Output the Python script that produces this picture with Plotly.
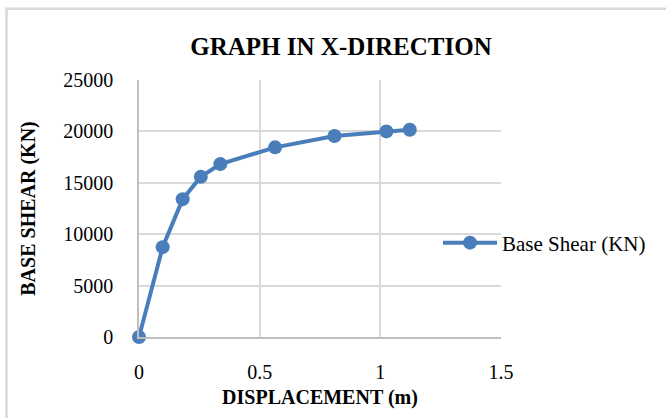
import plotly.graph_objects as go

# Pushover curve: roof displacement (m) vs base shear (kN)
displacement = [0, 0.098, 0.181, 0.256, 0.337, 0.564, 0.810, 1.025, 1.122]
base_shear = [0, 8740, 13410, 15580, 16820, 18450, 19550, 20000, 20160]

x_ticks = [0, 0.5, 1, 1.5]
x_tick_labels = ["0", "0.5", "1", "1.5"]
y_ticks = [0, 5000, 10000, 15000, 20000, 25000]
y_tick_labels = ["0", "5000", "10000", "15000", "20000", "25000"]

SERIF = "Liberation Serif"
BLUE = "#4a7ebb"
GRID = "#d9d9d9"

W, H = 666, 418
L, R, T, B = 139, 165, 80, 81
pw, ph = W - L - R, H - T - B


def px_x(p):
    return (p - L) / pw


def px_y(p):
    return (H - B - p) / ph


fig = go.Figure()
fig.add_trace(go.Scatter(
    x=displacement, y=base_shear,
    mode="lines+markers",
    name="Base Shear (KN)",
    line=dict(color=BLUE, width=4),
    marker=dict(color=BLUE, size=14),
    cliponaxis=False,
))

fig.update_layout(
    width=W, height=H,
    margin=dict(l=L, r=R, t=T, b=B, pad=0, autoexpand=False),
    paper_bgcolor="white", plot_bgcolor="white",
    font=dict(family=SERIF, size=20, color="black"),
    title=dict(
        text="<b>GRAPH IN X-DIRECTION</b>",
        font=dict(family=SERIF, size=25, color="black"),
        x=341 / W, xanchor="center", xref="container",
        y=1 - 46 / H, yanchor="middle", yref="container",
    ),
    showlegend=True,
    legend=dict(
        x=px_x(438), xanchor="left",
        y=px_y(243), yanchor="middle",
        bgcolor="rgba(0,0,0,0)",
        font=dict(family=SERIF, size=21, color="black"),
        itemwidth=54,
    ),
    xaxis=dict(
        range=[0, 1.5], tickvals=x_ticks, ticktext=x_tick_labels,
        automargin=False,
        showgrid=True, gridcolor=GRID, gridwidth=1.5,
        showline=True, linecolor="#bfbfbf", linewidth=1.5,
        zeroline=False, ticks="", ticklabelstandoff=16,
        tickfont=dict(family=SERIF, size=20, color="black"),
        title=dict(text="<b>DISPLACEMENT (m)</b>", standoff=8,
                   font=dict(family=SERIF, size=20, color="black")),
    ),
    yaxis=dict(
        range=[0, 25000], tickvals=y_ticks, ticktext=y_tick_labels,
        automargin=False,
        showgrid=True, gridcolor=GRID, gridwidth=1.5,
        showline=True, linecolor="#bfbfbf", linewidth=1.5,
        zeroline=False, ticks="", ticklabelstandoff=20,
        tickfont=dict(family=SERIF, size=20, color="black"),
        title=dict(text="<b>BASE SHEAR (KN)</b>", standoff=22,
                   font=dict(family=SERIF, size=20, color="black")),
    ),
    shapes=[dict(
        type="rect", xref="paper", yref="paper",
        x0=px_x(6.5), x1=px_x(720), y0=px_y(8.8), y1=px_y(460),
        line=dict(color=GRID, width=2.5), fillcolor="rgba(0,0,0,0)",
        layer="below",
    )],
)

fig.write_html("out.html")
